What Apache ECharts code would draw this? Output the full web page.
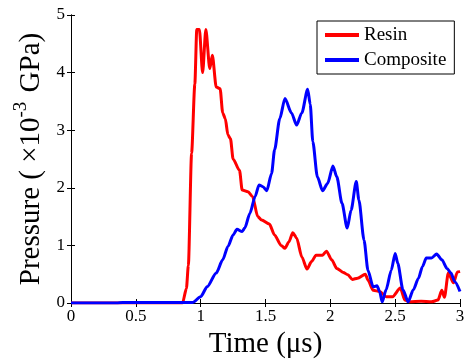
<!DOCTYPE html>
<html><head><meta charset="utf-8">
<script src="https://cdn.jsdelivr.net/npm/echarts@6/dist/echarts.min.js"></script>
<style>html,body{margin:0;padding:0;background:#fff}#c{width:465px;height:361px}</style>
</head><body><div id="c"></div>
<script>
const resinT = [0, 0.86, 0.89, 0.905, 0.93, 0.955, 0.97, 0.99, 1.015, 1.04, 1.07, 1.09, 1.12, 1.15, 1.17, 1.19, 1.21, 1.23, 1.25, 1.30, 1.32, 1.365, 1.40, 1.44, 1.47, 1.53, 1.57, 1.62, 1.65, 1.68, 1.71, 1.74, 1.78, 1.82, 1.855, 1.89, 1.94, 1.97, 2.01, 2.05, 2.10, 2.135, 2.17, 2.21, 2.27, 2.29, 2.33, 2.38, 2.43, 2.48, 2.54, 2.575, 2.61, 2.70, 2.78, 2.83, 2.86, 2.88, 2.91, 2.95, 2.98, 3.0];
const resinV = [0, 0, 0.25, 0.65, 2.6, 3.8, 4.75, 4.75, 4.0, 4.75, 4.07, 4.3, 3.75, 3.72, 3.3, 3.2, 2.92, 2.85, 2.5, 2.3, 1.96, 1.93, 1.85, 1.5, 1.44, 1.37, 1.18, 1.0, 0.95, 1.06, 1.22, 1.13, 0.8, 0.59, 0.72, 0.83, 0.83, 0.9, 0.75, 0.6, 0.53, 0.49, 0.41, 0.43, 0.5, 0.4, 0.22, 0.2, 0.11, 0.11, 0.26, 0.05, 0.02, 0.03, 0.02, 0.05, 0.22, 0.1, 0.52, 0.35, 0.54, 0.55];
const compT = [0, 0.35, 0.4, 0.94, 1.0, 1.05, 1.12, 1.17, 1.21, 1.25, 1.28, 1.32, 1.34, 1.38, 1.42, 1.45, 1.48, 1.51, 1.547, 1.57, 1.61, 1.65, 1.70, 1.74, 1.78, 1.825, 1.845, 1.865, 1.90, 1.94, 1.98, 2.02, 2.05, 2.09, 2.13, 2.16, 2.20, 2.22, 2.26, 2.29, 2.33, 2.36, 2.38, 2.40, 2.43, 2.47, 2.50, 2.52, 2.56, 2.60, 2.64, 2.68, 2.71, 2.74, 2.78, 2.82, 2.86, 2.90, 2.93, 2.96, 3.0];
const compV = [0, 0, 0.01, 0.01, 0.11, 0.28, 0.52, 0.75, 0.98, 1.18, 1.28, 1.24, 1.3, 1.56, 1.85, 2.05, 2.02, 1.95, 2.25, 2.66, 3.2, 3.55, 3.3, 3.09, 3.3, 3.71, 3.45, 2.8, 2.19, 1.95, 2.08, 2.38, 2.19, 1.73, 1.3, 1.61, 2.11, 1.79, 1.09, 0.57, 0.28, 0.30, 0.2, 0.02, 0.23, 0.57, 0.86, 0.69, 0.23, 0.02, 0.23, 0.43, 0.63, 0.78, 0.78, 0.85, 0.75, 0.60, 0.52, 0.37, 0.2];
const seriesNames = ['Resin', 'Composite'];
const xTicks = {min: 0, max: 3, interval: 0.5};
const yTicks = {min: 0, max: 5, interval: 1};

const font = '"Liberation Serif", "Times New Roman", serif';
const zip = (a, b) => a.map((t, i) => [t, b[i]]);
const chart = echarts.init(document.getElementById('c'), null, {renderer: 'canvas'});
const axLine = {show: true, lineStyle: {color: '#000', width: 1}};
const tick = {show: true, inside: true, length: 4, lineStyle: {color: '#000'}};
chart.setOption({
  animation: false,
  backgroundColor: '#fff',
  grid: {left: 71, right: 5, top: 15, bottom: 58, containLabel: false, outerBoundsMode: 'none'},
  legend: {
    orient: 'vertical', left: 317, top: 21,
    backgroundColor: '#fff', borderColor: '#000', borderWidth: 1,
    padding: [4, 8, 4, 8], itemGap: 5, itemWidth: 34, itemHeight: 4,
    icon: 'rect',
    textStyle: {fontFamily: font, fontSize: 19, color: '#000', lineHeight: 20},
    data: seriesNames
  },
  xAxis: [{
    type: 'value', min: xTicks.min, max: xTicks.max, interval: xTicks.interval,
    axisLine: axLine, axisTick: tick, splitLine: {show: false},
    axisLabel: {fontFamily: font, fontSize: 17, color: '#000', margin: 5,
      formatter: v => String(v)},
    name: 'Time (μs)', nameLocation: 'middle', nameGap: 26,
    nameTextStyle: {fontFamily: font, fontSize: 29, color: '#000'}
  }, {
    type: 'value', position: 'top', min: xTicks.min, max: xTicks.max, interval: xTicks.interval,
    axisLine: axLine, axisTick: tick, axisLabel: {show: false}, splitLine: {show: false}
  }],
  yAxis: [{
    type: 'value', min: yTicks.min, max: yTicks.max, interval: yTicks.interval,
    axisLine: axLine, axisTick: tick, splitLine: {show: false},
    axisLabel: {fontFamily: font, fontSize: 17, color: '#000', margin: 6},
    name: '{a|Pressure ( ×10}{s|-3}{a| GPa)}', nameLocation: 'middle', nameGap: 25, nameRotate: 90,
    nameTextStyle: {fontFamily: font, fontSize: 29, color: '#000',
      rich: {
        a: {fontFamily: font, fontSize: 29, color: '#000', lineHeight: 34, verticalAlign: 'bottom'},
        s: {fontFamily: font, fontSize: 19, color: '#000', lineHeight: 34, verticalAlign: 'top', padding: [0, 2, 0, 0]}
      }}
  }, {
    type: 'value', position: 'right', min: yTicks.min, max: yTicks.max, interval: yTicks.interval,
    axisLine: axLine, axisTick: tick, axisLabel: {show: false}, splitLine: {show: false}
  }],
  series: [{
    name: seriesNames[0], type: 'line', data: zip(resinT, resinV),
    showSymbol: false, smooth: 0.25, smoothMonotone: 'x',
    lineStyle: {color: '#ff0000', width: 3}, itemStyle: {color: '#ff0000'}
  }, {
    name: seriesNames[1], type: 'line', data: zip(compT, compV),
    showSymbol: false, smooth: 0.25, smoothMonotone: 'x',
    lineStyle: {color: '#0000ff', width: 3}, itemStyle: {color: '#0000ff'}
  }]
});
</script></body></html>
